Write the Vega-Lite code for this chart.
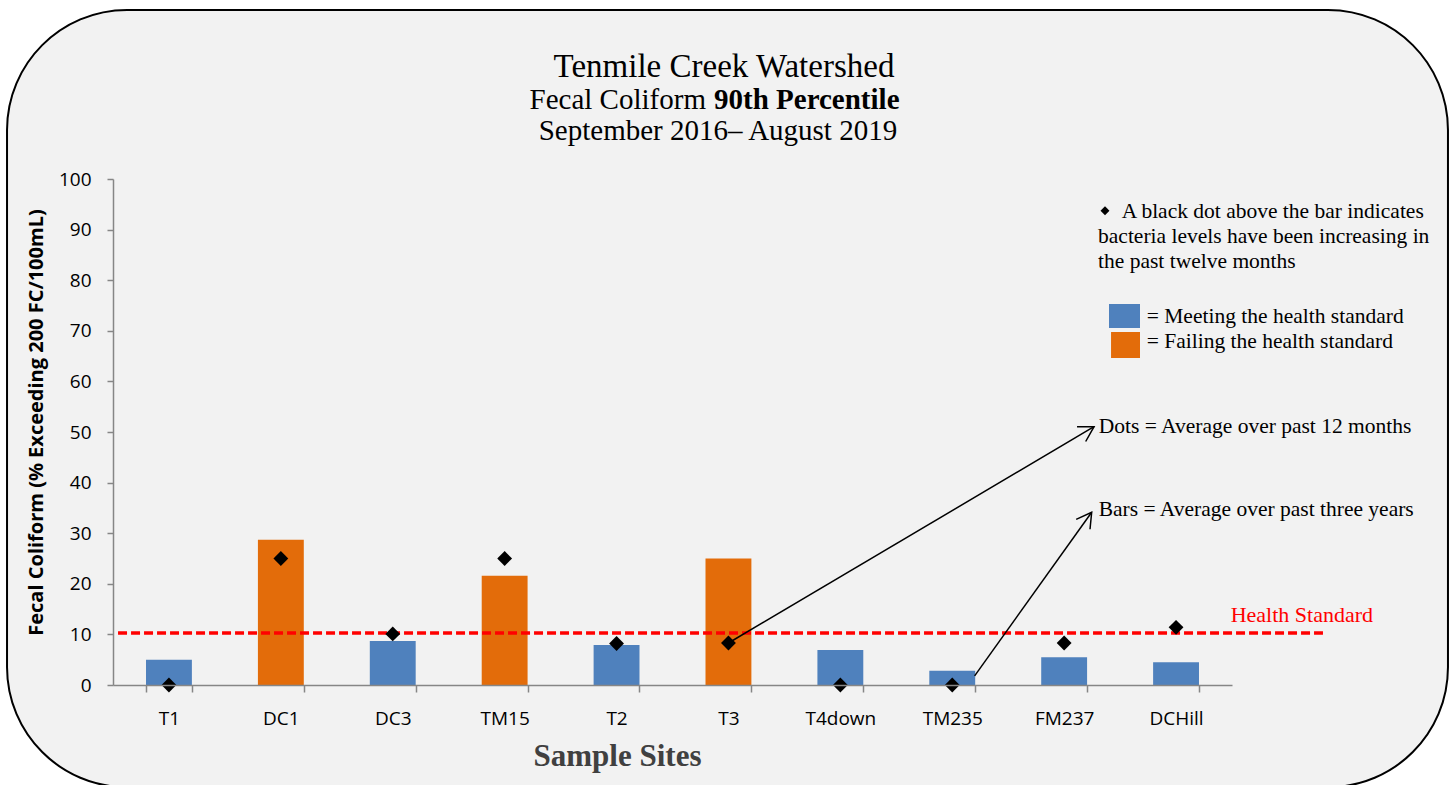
{
  "$schema": "https://vega.github.io/schema/vega-lite/v6.json",
  "width": 1330,
  "height": 506,
  "autosize": {"type": "none"},
  "padding": {"left": 113, "top": 179, "right": 12, "bottom": 100},
  "background": "#f2f2f2",
  "config": {"view": {"stroke": null}, "axis": {"grid": false}},
  "datasets": {
    "sites": [
      {"site": "T1", "bar": 5.0, "dot": 0.0, "status": "Meeting"},
      {"site": "DC1", "bar": 28.7, "dot": 25.0, "status": "Failing"},
      {"site": "DC3", "bar": 8.7, "dot": 10.1, "status": "Meeting"},
      {"site": "TM15", "bar": 21.6, "dot": 25.0, "status": "Failing"},
      {"site": "T2", "bar": 7.9, "dot": 8.2, "status": "Meeting"},
      {"site": "T3", "bar": 25.0, "dot": 8.3, "status": "Failing"},
      {"site": "T4down", "bar": 6.9, "dot": 0.0, "status": "Meeting"},
      {"site": "TM235", "bar": 2.8, "dot": 0.0, "status": "Meeting"},
      {"site": "FM237", "bar": 5.5, "dot": 8.3, "status": "Meeting"},
      {"site": "DCHill", "bar": 4.5, "dot": 11.4, "status": "Meeting"}
    ]
  },
  "resolve": {"scale": {"x": "independent"}, "axis": {"y": "independent"}},
  "layer": [
    {
      "data": {"name": "sites"},
      "mark": {"type": "bar"},
      "encoding": {
        "x": {
          "field": "site", "type": "nominal", "sort": null,
          "scale": {"type": "band", "range": [0, 1119], "paddingInner": 0.59, "paddingOuter": 0.295},
          "axis": {
            "orient": "bottom",
            "title": "Sample Sites", "titleFont": "Liberation Serif", "titleFontSize": 31, "titleFontWeight": "bold",
            "titleColor": "#404040", "titleX": 504, "titleY": 80, "titleBaseline": "alphabetic", "titleAlign": "center",
            "labelFont": "Open Sans", "labelFontSize": 19, "labelColor": "#000000", "labelAngle": 0,
            "labelBaseline": "alphabetic", "labelPadding": 32, "tickSize": 7, "tickColor": "#868686",
            "tickWidth": 1.5, "domainColor": "#868686", "domainWidth": 1.5, "tickBand": "extent", "zindex": 1
          }
        },
        "y": {
          "field": "bar", "type": "quantitative",
          "scale": {"domain": [0, 100], "nice": false},
          "axis": {
            "orient": "left",
            "title": "Fecal Coliform (% Exceeding 200 FC/100mL)", "titleFont": "Open Sans", "titleFontSize": 20,
            "titleFontWeight": "bold", "titleColor": "#000000", "titleX": -77, "titleY": 243, "titleAngle": -90,
            "titleBaseline": "middle", "titleAlign": "center",
            "values": [0, 10, 20, 30, 40, 50, 60, 70, 80, 90, 100],
            "labelFont": "Open Sans", "labelFontSize": 19, "labelColor": "#000000", "labelPadding": 16,
            "tickSize": 6, "tickColor": "#868686", "tickWidth": 1.5, "domainColor": "#868686", "domainWidth": 1.5,
            "zindex": 1
          }
        },
        "color": {
          "field": "status", "type": "nominal",
          "scale": {"domain": ["Meeting", "Failing"], "range": ["#4f81bd", "#e36c0a"]},
          "legend": null
        }
      }
    },
    {
      "data": {"values": [{}]},
      "layer": [
        {
          "mark": {"type": "rect", "fill": null, "stroke": "#ffffff", "strokeWidth": 200, "cornerRadius": 220},
          "encoding": {
            "x": {"datum": -1.341, "type": "quantitative", "scale": {"domain": [0.5, 10.5], "range": [0, 1119]}, "axis": null},
            "x2": {"datum": 13.324},
            "y": {"datum": 153.16, "type": "quantitative", "scale": {"domain": [0, 100]}, "axis": null},
            "y2": {"datum": -39.92}
          }
        },
        {
          "mark": {"type": "rect", "fill": null, "stroke": "#000000", "strokeWidth": 2, "cornerRadius": 120},
          "encoding": {
            "x": {"datum": -0.447, "type": "quantitative", "scale": {"domain": [0.5, 10.5], "range": [0, 1119]}, "axis": null},
            "x2": {"datum": 12.43},
            "y": {"datum": 133.4, "type": "quantitative", "scale": {"domain": [0, 100]}, "axis": null},
            "y2": {"datum": -20.2}
          }
        },
        {
          "mark": {"type": "rule", "color": "#ff0000", "strokeWidth": 3.5, "strokeDash": [9, 4]},
          "encoding": {
            "x": {"datum": 0.545, "type": "quantitative", "scale": {"domain": [0.5, 10.5], "range": [0, 1119]}, "axis": null},
            "x2": {"datum": 11.313},
            "y": {"datum": 10.3, "type": "quantitative", "scale": {"domain": [0, 100]}, "axis": null}
          }
        },
        {
          "mark": {"type": "text", "text": "Health Standard", "font": "Liberation Serif", "fontSize": 22, "color": "#ff0000", "align": "left", "baseline": "alphabetic"},
          "encoding": {
            "x": {"datum": 10.488, "type": "quantitative", "scale": {"domain": [0.5, 10.5], "range": [0, 1119]}, "axis": null},
            "y": {"datum": 12.39, "type": "quantitative", "scale": {"domain": [0, 100]}, "axis": null}
          }
        },
        {
          "mark": {"type": "rule", "color": "#000000", "strokeWidth": 1.5},
          "encoding": {
            "x": {"datum": 6.0, "type": "quantitative", "scale": {"domain": [0.5, 10.5], "range": [0, 1119]}, "axis": null},
            "x2": {"datum": 9.267},
            "y": {"datum": 8.3, "type": "quantitative", "scale": {"domain": [0, 100]}, "axis": null},
            "y2": {"datum": 51.05}
          }
        },
        {
          "mark": {"type": "rule", "color": "#000000", "strokeWidth": 1.5},
          "encoding": {
            "x": {"datum": 8.2, "type": "quantitative", "scale": {"domain": [0.5, 10.5], "range": [0, 1119]}, "axis": null},
            "x2": {"datum": 9.246},
            "y": {"datum": 1.8, "type": "quantitative", "scale": {"domain": [0, 100]}, "axis": null},
            "y2": {"datum": 34.13}
          }
        },
        {
          "mark": {"type": "point", "shape": "M-0.5,0.866L0,0L0.5,0.866", "size": 1156, "angle": 59.4, "filled": false, "stroke": "#000000", "strokeWidth": 1.5, "opacity": 1},
          "encoding": {
            "x": {"datum": 9.267, "type": "quantitative", "scale": {"domain": [0.5, 10.5], "range": [0, 1119]}, "axis": null},
            "y": {"datum": 51.05, "type": "quantitative", "scale": {"domain": [0, 100]}, "axis": null}
          }
        },
        {
          "mark": {"type": "point", "shape": "M-0.5,0.866L0,0L0.5,0.866", "size": 1156, "angle": 35.6, "filled": false, "stroke": "#000000", "strokeWidth": 1.5, "opacity": 1},
          "encoding": {
            "x": {"datum": 9.246, "type": "quantitative", "scale": {"domain": [0.5, 10.5], "range": [0, 1119]}, "axis": null},
            "y": {"datum": 34.13, "type": "quantitative", "scale": {"domain": [0, 100]}, "axis": null}
          }
        },
        {
          "mark": {"type": "text", "text": "Dots = Average over past 12 months", "font": "Liberation Serif", "fontSize": 21.5, "color": "#000000", "align": "left", "baseline": "alphabetic"},
          "encoding": {
            "x": {"datum": 9.309, "type": "quantitative", "scale": {"domain": [0.5, 10.5], "range": [0, 1119]}, "axis": null},
            "y": {"datum": 49.74, "type": "quantitative", "scale": {"domain": [0, 100]}, "axis": null}
          }
        },
        {
          "mark": {"type": "text", "text": "Bars = Average over past three years", "font": "Liberation Serif", "fontSize": 21.5, "color": "#000000", "align": "left", "baseline": "alphabetic"},
          "encoding": {
            "x": {"datum": 9.309, "type": "quantitative", "scale": {"domain": [0.5, 10.5], "range": [0, 1119]}, "axis": null},
            "y": {"datum": 33.40, "type": "quantitative", "scale": {"domain": [0, 100]}, "axis": null}
          }
        },
        {
          "mark": {"type": "point", "shape": "diamond", "size": 80, "filled": true, "color": "#000000", "opacity": 1},
          "encoding": {
            "x": {"datum": 9.365, "type": "quantitative", "scale": {"domain": [0.5, 10.5], "range": [0, 1119]}, "axis": null},
            "y": {"datum": 93.73, "type": "quantitative", "scale": {"domain": [0, 100]}, "axis": null}
          }
        },
        {
          "mark": {"type": "text", "text": "A black dot above the bar indicates", "font": "Liberation Serif", "fontSize": 21.5, "color": "#000000", "align": "left", "baseline": "alphabetic"},
          "encoding": {
            "x": {"datum": 9.514, "type": "quantitative", "scale": {"domain": [0.5, 10.5], "range": [0, 1119]}, "axis": null},
            "y": {"datum": 92.39, "type": "quantitative", "scale": {"domain": [0, 100]}, "axis": null}
          }
        },
        {
          "mark": {"type": "text", "text": ["bacteria levels have been increasing in", "the past twelve months"], "lineHeight": 25, "font": "Liberation Serif", "fontSize": 21.5, "color": "#000000", "align": "left", "baseline": "alphabetic"},
          "encoding": {
            "x": {"datum": 9.303, "type": "quantitative", "scale": {"domain": [0.5, 10.5], "range": [0, 1119]}, "axis": null},
            "y": {"datum": 87.45, "type": "quantitative", "scale": {"domain": [0, 100]}, "axis": null}
          }
        },
        {
          "mark": {"type": "rect", "fill": "#4f81bd"},
          "encoding": {
            "x": {"datum": 9.401, "type": "quantitative", "scale": {"domain": [0.5, 10.5], "range": [0, 1119]}, "axis": null},
            "x2": {"datum": 9.678},
            "y": {"datum": 75.3, "type": "quantitative", "scale": {"domain": [0, 100]}, "axis": null},
            "y2": {"datum": 70.55}
          }
        },
        {
          "mark": {"type": "rect", "fill": "#e36c0a"},
          "encoding": {
            "x": {"datum": 9.419, "type": "quantitative", "scale": {"domain": [0.5, 10.5], "range": [0, 1119]}, "axis": null},
            "x2": {"datum": 9.678},
            "y": {"datum": 69.76, "type": "quantitative", "scale": {"domain": [0, 100]}, "axis": null},
            "y2": {"datum": 64.62}
          }
        },
        {
          "mark": {"type": "text", "text": "= Meeting the health standard", "font": "Liberation Serif", "fontSize": 21.5, "color": "#000000", "align": "left", "baseline": "alphabetic"},
          "encoding": {
            "x": {"datum": 9.738, "type": "quantitative", "scale": {"domain": [0.5, 10.5], "range": [0, 1119]}, "axis": null},
            "y": {"datum": 71.48, "type": "quantitative", "scale": {"domain": [0, 100]}, "axis": null}
          }
        },
        {
          "mark": {"type": "text", "text": "= Failing the health standard", "font": "Liberation Serif", "fontSize": 21.5, "color": "#000000", "align": "left", "baseline": "alphabetic"},
          "encoding": {
            "x": {"datum": 9.738, "type": "quantitative", "scale": {"domain": [0.5, 10.5], "range": [0, 1119]}, "axis": null},
            "y": {"datum": 66.54, "type": "quantitative", "scale": {"domain": [0, 100]}, "axis": null}
          }
        },
        {
          "mark": {"type": "text", "text": "Tenmile Creek Watershed", "font": "Liberation Serif", "fontSize": 33, "color": "#000000", "align": "center", "baseline": "alphabetic"},
          "encoding": {
            "x": {"datum": 5.96, "type": "quantitative", "scale": {"domain": [0.5, 10.5], "range": [0, 1119]}, "axis": null},
            "y": {"datum": 120.2, "type": "quantitative", "scale": {"domain": [0, 100]}, "axis": null}
          }
        },
        {
          "mark": {"type": "text", "text": "Fecal Coliform", "font": "Liberation Serif", "fontSize": 29, "color": "#000000", "align": "right", "baseline": "alphabetic"},
          "encoding": {
            "x": {"datum": 5.799, "type": "quantitative", "scale": {"domain": [0.5, 10.5], "range": [0, 1119]}, "axis": null},
            "y": {"datum": 113.8, "type": "quantitative", "scale": {"domain": [0, 100]}, "axis": null}
          }
        },
        {
          "mark": {"type": "text", "text": "90th Percentile", "font": "Liberation Serif", "fontSize": 29, "fontWeight": "bold", "color": "#000000", "align": "left", "baseline": "alphabetic"},
          "encoding": {
            "x": {"datum": 5.871, "type": "quantitative", "scale": {"domain": [0.5, 10.5], "range": [0, 1119]}, "axis": null},
            "y": {"datum": 113.8, "type": "quantitative", "scale": {"domain": [0, 100]}, "axis": null}
          }
        },
        {
          "mark": {"type": "text", "text": "September 2016– August 2019", "font": "Liberation Serif", "fontSize": 29, "color": "#000000", "align": "center", "baseline": "alphabetic"},
          "encoding": {
            "x": {"datum": 5.906, "type": "quantitative", "scale": {"domain": [0.5, 10.5], "range": [0, 1119]}, "axis": null},
            "y": {"datum": 107.7, "type": "quantitative", "scale": {"domain": [0, 100]}, "axis": null}
          }
        }
      ]
    },
    {
      "data": {"name": "sites"},
      "mark": {"type": "point", "shape": "diamond", "filled": true, "color": "#000000", "size": 220, "opacity": 1},
      "encoding": {
        "x": {
          "field": "site", "type": "nominal", "sort": null,
          "scale": {"type": "band", "range": [0, 1119], "paddingInner": 0.59, "paddingOuter": 0.295},
          "axis": null
        },
        "y": {"field": "dot", "type": "quantitative", "scale": {"domain": [0, 100]}, "axis": null}
      }
    }
  ]
}
